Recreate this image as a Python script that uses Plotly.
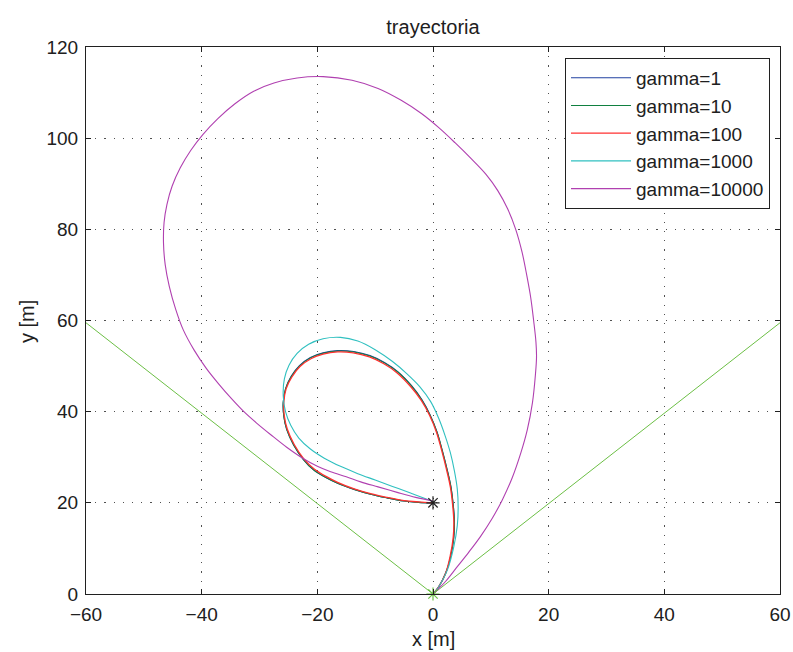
import plotly.graph_objects as go

# ---- data ----
cone_x = [-60, 0, 60]
cone_y = [59.5, 0, 59.5]

g100_x = [0, 1.0, 2.2, 3.0, 3.5, 3.6, 3.4, 3.0, 2.3, 1.5, 0.6, -0.6, -2.0, -3.8, -6.2, -8.5, -11.0, -13.8, -16.5, -19.0, -21.1, -23.0, -24.4, -25.4, -25.8, -25.7, -25.2, -24.0, -22.3, -20.6, -18.5, -16.5, -13.5, -10.8, -8.0, -5.0, -2.5, 0]
g100_y = [0, 1.6, 4.6, 8.5, 12.5, 16.0, 19.5, 23.5, 27.5, 31.5, 35.5, 39.2, 42.4, 45.4, 48.5, 50.5, 52.0, 52.9, 53.1, 52.6, 51.6, 49.9, 47.6, 45.0, 42.0, 39.0, 36.2, 32.8, 29.6, 27.5, 25.8, 24.5, 23.0, 22.0, 21.2, 20.5, 20.2, 20.0]

g10_x = [0, 1.0, 2.2, 3.1, 3.6, 3.7, 3.5, 3.1, 2.4, 1.6, 0.7, -0.5, -1.9, -3.7, -6.1, -8.4, -10.9, -13.7, -16.5, -19.0, -21.2, -23.1, -24.5, -25.5, -25.9, -25.8, -25.3, -24.1, -22.4, -20.7, -18.6, -16.5, -13.5, -10.8, -8.0, -5.0, -2.5, 0]
g10_y = [0, 1.6, 4.6, 8.5, 12.5, 16.0, 19.5, 23.5, 27.5, 31.5, 35.5, 39.2, 42.5, 45.6, 48.7, 50.7, 52.2, 53.1, 53.3, 52.8, 51.8, 50.0, 47.7, 45.0, 42.0, 39.0, 36.1, 32.7, 29.5, 27.3, 25.6, 24.3, 22.9, 21.9, 21.1, 20.4, 20.1, 20.0]

g1_x = [0, 1.0, 2.2, 3.1, 3.6, 3.7, 3.5, 3.1, 2.4, 1.6, 0.7, -0.5, -1.9, -3.7, -6.1, -8.4, -10.9, -13.7, -16.5, -19.0, -21.2, -23.1, -24.5, -25.5, -25.9, -25.8, -25.3, -24.1, -22.4, -20.7, -18.6, -16.5, -13.5, -10.8, -8.0, -5.0, -2.5, 0]
g1_y = [0, 1.6, 4.6, 8.5, 12.5, 16.0, 19.5, 23.5, 27.5, 31.5, 35.5, 39.3, 42.6, 45.7, 48.8, 50.8, 52.3, 53.2, 53.4, 52.9, 51.9, 50.1, 47.8, 45.0, 42.0, 39.0, 36.1, 32.7, 29.5, 27.3, 25.6, 24.3, 22.9, 21.9, 21.1, 20.4, 20.1, 20.0]

g1000_x = [0, 1.0, 2.5, 3.6, 4.2, 4.35, 4.2, 3.7, 3.0, 2.1, 1.0, -0.4, -2.3, -4.5, -7.0, -10.0, -13.0, -16.0, -19.0, -21.5, -23.5, -24.9, -25.7, -25.9, -25.5, -24.6, -23.2, -21.2, -18.8, -16.0, -13.0, -10.0, -7.0, -4.0, -1.5, 0]
g1000_y = [0, 1.6, 5.3, 10.4, 15.0, 19.0, 23.0, 27.0, 31.0, 34.7, 38.5, 42.2, 45.5, 48.3, 51.0, 53.6, 55.5, 56.3, 56.0, 54.8, 52.8, 50.2, 47.2, 43.5, 40.0, 37.0, 34.2, 31.8, 29.8, 28.0, 26.4, 25.0, 23.6, 22.2, 21.0, 20.3]

g10000_x = [0, 1.0, 2.2, 4.2, 6.2, 8.2, 10.2, 12.0, 13.7, 15.2, 16.3, 17.2, 17.7, 17.9, 17.8, 17.4, 16.9, 16.2, 15.4, 14.3, 12.9, 11.2, 9.2, 6.6, 3.8, 1.0, -2.0, -5.5, -9.5, -14.0, -19.0, -23.5, -27.5, -31.0, -34.3, -37.2, -39.8, -41.9, -43.7, -45.1, -46.0, -46.5, -46.6, -46.3, -45.6, -44.5, -43.2, -41.3, -39.2, -37.0, -34.8, -32.7, -30.5, -28.1, -25.3, -22.3, -20.0, -17.7, -15.0, -12.5, -9.5, -6.2, -3.0, 0]
g10000_y = [0, 1.2, 2.8, 6.0, 9.2, 12.6, 16.5, 20.7, 25.5, 31.0, 36.0, 42.0, 48.0, 52.0, 55.3, 60.0, 65.0, 70.0, 75.0, 80.0, 84.5, 88.5, 92.0, 95.5, 99.0, 102.3, 105.4, 108.3, 110.9, 112.7, 113.5, 113.2, 112.1, 110.3, 107.5, 104.3, 100.8, 97.3, 93.5, 89.5, 85.5, 81.5, 77.0, 72.2, 67.5, 62.5, 58.0, 53.5, 49.5, 46.0, 42.8, 40.0, 37.5, 35.0, 32.2, 29.6, 28.0, 26.8, 25.7, 24.6, 23.5, 22.3, 21.2, 20.4]

series_names = ["gamma=1", "gamma=10", "gamma=100", "gamma=1000", "gamma=10000"]
series_x = [g1_x, g10_x, g100_x, g1000_x, g10000_x]
series_y = [g1_y, g10_y, g100_y, g1000_y, g10000_y]
series_colors = ["#2040a0", "#108040", "#ff3030", "#30c0c0", "#b040b0"]
series_widths = [1.1, 1.1, 1.3, 1.1, 1.1]

start_pt = (0, 0)
target_pt = (0, 20)

x_ticks = [-60, -40, -20, 0, 20, 40, 60]
y_ticks = [0, 20, 40, 60, 80, 100, 120]

FONT = "Liberation Sans, Arial, Helvetica, sans-serif"
TXT = "#202020"
CONE = "#6cbf45"

fig = go.Figure()

fig.add_trace(go.Scatter(x=cone_x, y=cone_y, mode="lines",
                         line=dict(color=CONE, width=1), showlegend=False,
                         hoverinfo="skip"))

for nm, xs, ys, c, w in zip(series_names, series_x, series_y, series_colors, series_widths):
    fig.add_trace(go.Scatter(x=xs, y=ys, mode="lines", name=nm,
                             line=dict(color=c, width=w, shape="spline", smoothing=1.0)))

fig.add_trace(go.Scatter(x=[target_pt[0]], y=[target_pt[1]], mode="markers",
                         marker=dict(symbol="asterisk-open", size=11, color=TXT,
                                     line=dict(color=TXT, width=1.2)),
                         showlegend=False, cliponaxis=False))
fig.add_trace(go.Scatter(x=[start_pt[0]], y=[start_pt[1]], mode="markers",
                         marker=dict(symbol="asterisk-open", size=11, color=CONE,
                                     line=dict(color=CONE, width=1.2)),
                         showlegend=False, cliponaxis=False))

axis_common = dict(
    showline=True, linecolor=TXT, linewidth=1.2, mirror="ticks",
    ticks="inside", ticklen=5, tickcolor=TXT, tickwidth=1,
    showgrid=True, gridcolor="#505050", gridwidth=1, griddash="1.2px,8px",
    zeroline=False, automargin=False, ticklabelstandoff=3,
    tickfont=dict(family=FONT, size=19, color=TXT),
)

fig.update_xaxes(range=[-60, 60], tickvals=x_ticks, **axis_common)
fig.update_yaxes(range=[0, 120], tickvals=y_ticks, **axis_common)

fig.update_layout(
    width=793, height=652, autosize=False,
    margin=dict(l=86, r=13, t=47, b=58),
    plot_bgcolor="white", paper_bgcolor="white",
    font=dict(family=FONT, color=TXT),
    title=dict(text="trayectoria", xref="paper", x=0.5, xanchor="center", y=1 - 27 / 652,
               yanchor="middle", font=dict(family=FONT, size=20, color=TXT)),
    legend=dict(x=0.9856, xanchor="right", y=0.98, yanchor="top",
                bgcolor="white", bordercolor=TXT, borderwidth=1,
                font=dict(family=FONT, size=19, color=TXT),
                itemwidth=60, traceorder="normal"),
    annotations=[
        dict(text="x [m]", xref="paper", yref="paper", x=0.5, y=(594 - 639) / 547,
             xanchor="center", yanchor="middle", showarrow=False,
             font=dict(family=FONT, size=20, color=TXT)),
        dict(text="y [m]", xref="paper", yref="paper", x=(27 - 86) / 694, y=(594 - 321) / 547,
             xanchor="center", yanchor="middle", showarrow=False, textangle=-90,
             font=dict(family=FONT, size=20, color=TXT)),
    ],
)

fig.write_html("out.html")
